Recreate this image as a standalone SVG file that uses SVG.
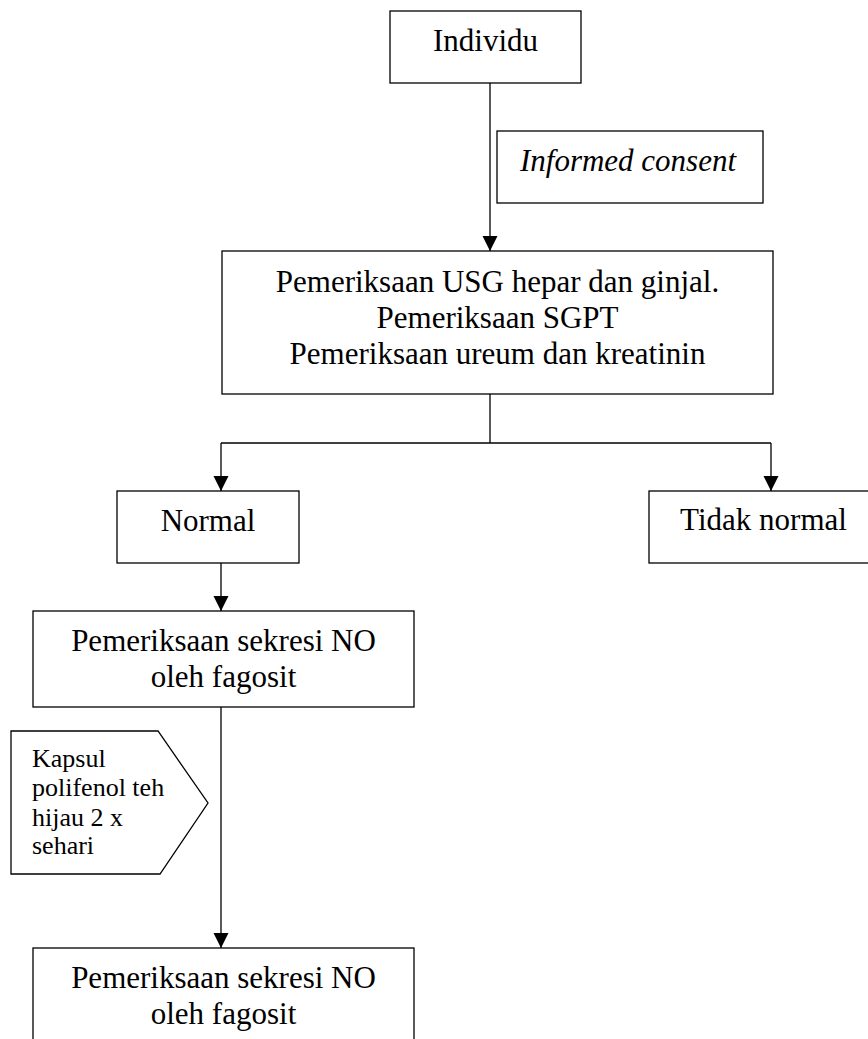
<svg xmlns="http://www.w3.org/2000/svg" width="868" height="1039" viewBox="0 0 868 1039">
<defs>
<marker id="arr" markerUnits="userSpaceOnUse" markerWidth="16" markerHeight="16" refX="15" refY="7.5" orient="auto">
<path d="M0,0 L15,7.5 L0,15 Z" fill="#000"/>
</marker>
<style>
.box{fill:#fff;stroke:#000;stroke-width:1.3}
.t{font-family:"Liberation Serif","Times New Roman",serif;font-size:31px;fill:#000;text-anchor:middle}
.s{font-family:"Liberation Serif","Times New Roman",serif;font-size:26px;fill:#000}
.c{fill:none;stroke:#000;stroke-width:1.3}
</style>
</defs>
<rect width="868" height="1039" fill="#fff"/>
<g id="connectors">
<line class="c" x1="490" y1="83" x2="490" y2="251" marker-end="url(#arr)"/>
<polyline class="c" points="490,394 490,443"/>
<polyline class="c" points="221,443 771,443"/>
<line class="c" x1="221" y1="443" x2="221" y2="491" marker-end="url(#arr)"/>
<line class="c" x1="771" y1="443" x2="771" y2="491" marker-end="url(#arr)"/>
<line class="c" x1="221" y1="563" x2="221" y2="611" marker-end="url(#arr)"/>
<line class="c" x1="221" y1="707" x2="221" y2="948" marker-end="url(#arr)"/>
</g>
<g id="individu">
<rect class="box" x="390" y="11" width="191" height="72"/>
<text class="t" x="485.5" y="51">Individu</text>
</g>
<g id="informed-consent">
<rect class="box" x="497" y="131" width="266" height="72"/>
<text class="t" x="628" y="171" font-style="italic">Informed consent</text>
</g>
<g id="pemeriksaan-usg">
<rect class="box" x="222" y="251" width="551" height="143"/>
<text class="t" x="497.5" y="292">Pemeriksaan USG hepar dan ginjal.</text>
<text class="t" x="497.5" y="328">Pemeriksaan SGPT</text>
<text class="t" x="497.5" y="364">Pemeriksaan ureum dan kreatinin</text>
</g>
<g id="normal">
<rect class="box" x="117" y="491" width="182" height="72"/>
<text class="t" x="208" y="531">Normal</text>
</g>
<g id="tidak-normal">
<rect class="box" x="649" y="491" width="229" height="72"/>
<text class="t" x="763.5" y="530">Tidak normal</text>
</g>
<g id="sekresi-1">
<rect class="box" x="33" y="611" width="381" height="96"/>
<text class="t" x="223.5" y="651">Pemeriksaan sekresi NO</text>
<text class="t" x="223.5" y="687">oleh fagosit</text>
</g>
<g id="kapsul">
<polygon class="box" points="11,731 158,731 208,803 160,874 11,874"/>
<text class="s" x="32" y="767">Kapsul</text>
<text class="s" x="32" y="796">polifenol teh</text>
<text class="s" x="32" y="826">hijau 2 x</text>
<text class="s" x="32" y="854">sehari</text>
</g>
<g id="sekresi-2">
<rect class="box" x="33" y="948" width="381" height="100"/>
<text class="t" x="223.5" y="988">Pemeriksaan sekresi NO</text>
<text class="t" x="223.5" y="1024">oleh fagosit</text>
</g>
</svg>
